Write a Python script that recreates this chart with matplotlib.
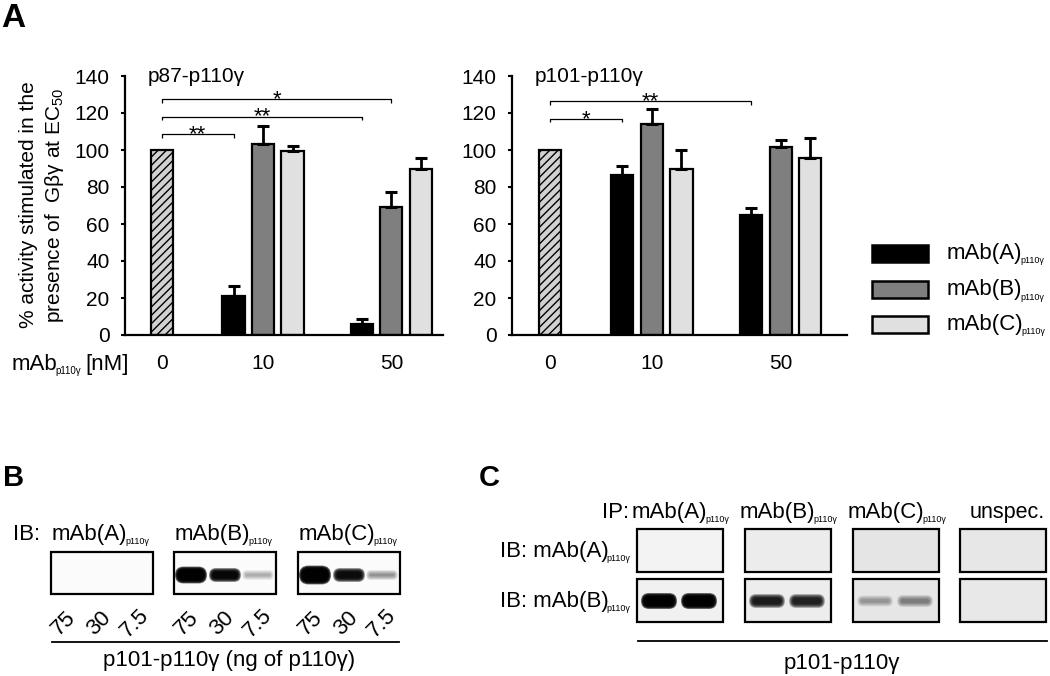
import matplotlib
matplotlib.use("Agg")
import matplotlib.pyplot as plt
from matplotlib.patches import Rectangle, FancyBboxPatch
import numpy as np

plt.rcParams['font.family'] = ['Liberation Sans', 'DejaVu Sans']
plt.rcParams['mathtext.fontset'] = 'custom'
plt.rcParams['mathtext.rm'] = 'Liberation Sans'
plt.rcParams['mathtext.it'] = 'Liberation Sans:italic'
plt.rcParams['mathtext.bf'] = 'Liberation Sans:bold'
plt.rcParams['hatch.linewidth'] = 1.0

# ---------------- data ----------------
conc_labels = ["0", "10", "50"]
series_names = ["mAb(A)", "mAb(B)", "mAb(C)"]
series_sub = "p110γ"
series_colors = ["#000000", "#7f7f7f", "#e0e0e0"]
control_color = "#d2d2d2"

p87_control = 100
p87_A = [21, 6];      p87_A_err = [5.7, 2.5]
p87_B = [103, 69];    p87_B_err = [10, 8.3]
p87_C = [99.5, 90];   p87_C_err = [2.5, 5.5]

p101_control = 100
p101_A = [86.7, 65];    p101_A_err = [4.7, 3.9]
p101_B = [114.3, 101.4]; p101_B_err = [8.1, 4.0]
p101_C = [89.7, 95.7];  p101_C_err = [10.5, 10.9]

# significance: (target series index, target concentration index, bracket height, label)
p87_sig = [(0, 0, 108.5, "**"), (0, 1, 118, "**"), (1, 1, 127.4, "*")]
p101_sig = [(0, 0, 116.8, "*"), (0, 1, 126.3, "**")]

# western blot data (band intensities 0..1, band heights in px)
blotB_titles = ["mAb(A)", "mAb(B)", "mAb(C)"]
blotB_lanes = ["75", "30", "7.5"]
blotB_int = [[0.0, 0.0, 0.0], [1.0, 0.97, 0.3], [1.0, 0.95, 0.4]]
blotB_h = [[0, 0, 0], [9, 6, 2], [11, 6, 2]]

blotC_ip = ["mAb(A)", "mAb(B)", "mAb(C)", "unspec."]
blotC_ib = ["mAb(A)", "mAb(B)"]
blotC_int = [[[0, 0], [0, 0], [0, 0], [0, 0]],
             [[1.0, 1.0], [0.88, 0.85], [0.35, 0.45], [0, 0]]]
blotC_h = [[[0, 0], [0, 0], [0, 0], [0, 0]],
           [[8, 8], [6, 6], [3, 4], [0, 0]]]
blotC_bg = [["#f3f3f3", "#ececec", "#e5e5e5", "#e7e7e7"],
            ["#f1f1f1", "#ededed", "#e6e6e6", "#e8e8e8"]]

# ---------------- figure ----------------
W, H = 1050, 676
fig = plt.figure(figsize=(W / 100, H / 100), dpi=100)
ov = fig.add_axes([0, 0, 1, 1], zorder=0)
ov.set_xlim(0, W); ov.set_ylim(H, 0); ov.axis('off')

def pax(x0, y0, x1, y1):
    return [x0 / W, 1 - y1 / H, (x1 - x0) / W, (y1 - y0) / H]

FS = 15
FS2 = 16
SUBFS = 6.5

def subtext(ax, x, y, main, sub, size=FS2, subsize=SUBFS, after=None, **kw):
    t = ax.text(x, y, main, fontsize=size, va='baseline', ha='left', **kw)
    s = ax.annotate(sub, xy=(1, 0), xycoords=t, xytext=(-1.6, 0.5),
                    textcoords='offset points', fontsize=subsize, va='baseline', ha='left')
    if after:
        ax.annotate(after, xy=(1, 0), xycoords=(s, t), xytext=(3, 0),
                    textcoords='offset points', fontsize=size, va='bottom', ha='left')
    return t

group_centers = [3.43, 7.78]
offsets = [-1, 0, 1]
bw = 0.75

def bar_panel(rect, xlim, control, vals, errs, sig, title, title_x):
    ax = fig.add_axes(rect, zorder=2)
    ax.patch.set_alpha(0)
    ax.bar([0], [control], bw, color=control_color, hatch='////',
           edgecolor='black', linewidth=1.6, zorder=2)
    for i in range(3):
        xs = [gc + offsets[i] for gc in group_centers]
        ax.bar(xs, vals[i], bw, color=series_colors[i], edgecolor='black',
               linewidth=1.6, zorder=2)
        ax.errorbar(xs, vals[i], yerr=[[0, 0], errs[i]], fmt='none', ecolor='black',
                    elinewidth=2, capsize=4, capthick=2.2, zorder=3)
    for si, ci, yb, lab in sig:
        xe = group_centers[ci] + offsets[si]
        ax.plot([0, 0, xe, xe], [yb - 1.8, yb, yb, yb - 1.8], color='black', lw=0.9,
                solid_capstyle='butt', clip_on=False)
        ax.text((0 + xe) / 2, yb - 3.2, lab, ha='center', va='baseline', fontsize=16)
    ax.set_xlim(*xlim)
    ax.set_ylim(0, 140)
    ax.set_yticks(np.arange(0, 141, 20))
    ax.set_xticks([0] + group_centers)
    ax.set_xticklabels(conc_labels)
    ax.tick_params(axis='x', length=0, pad=14, labelsize=FS)
    ax.tick_params(axis='y', length=3, width=1.5, pad=8, labelsize=FS, direction='out')
    for s in ['top', 'right']:
        ax.spines[s].set_visible(False)
    for s in ['left', 'bottom']:
        ax.spines[s].set_linewidth(1.6)
    ax.text(title_x, 1.0, title, transform=ax.transAxes, fontsize=FS, va='center', ha='left')
    return ax

axL = bar_panel(pax(125, 76, 443, 335), (-1.25, 9.53), p87_control,
                [p87_A, p87_B, p87_C], [p87_A_err, p87_B_err, p87_C_err],
                p87_sig, "p87-p110γ", 0.072)
axR = bar_panel(pax(512, 76, 847, 335), (-1.29, 10.02), p101_control,
                [p101_A, p101_B, p101_C], [p101_A_err, p101_B_err, p101_C_err],
                p101_sig, "p101-p110γ", 0.068)

# y label (two lines)
fig.text(28 / W, 1 - 205 / H, "% activity stimulated in the", rotation=90,
         ha='center', va='center', fontsize=FS)
fig.text(54 / W, 1 - 205 / H, "presence of  Gβγ at EC$_{50}$", rotation=90,
         ha='center', va='center', fontsize=FS)

# x label
subtext(ov, 12, 370, "mAb", series_sub, size=FS2, subsize=7, after="[nM]")

# legend
leg_y = [253, 289.5, 324]
for i, (nm, col) in enumerate(zip(series_names, series_colors)):
    yc = leg_y[i]
    ov.add_patch(Rectangle((872, yc - 8.5), 56, 17, facecolor=col, edgecolor='black', lw=1.8))
    subtext(ov, 947, yc + 6, nm, series_sub)

# panel letters
ov.text(1, 27, "A", fontsize=24, fontweight='bold', va='baseline')
ov.text(3, 486, "B", fontsize=21, fontweight='bold', va='baseline')
ov.text(479, 486, "C", fontsize=21, fontweight='bold', va='baseline')

def band(ax, cx, cy, w, h, inten, n=8, spread=4.0):
    if inten <= 0:
        return
    a = 1 - (1 - min(inten, 0.995)) ** (1.0 / n)
    for k in range(n):
        p = spread * (1 - k / (n - 1))
        ww, hh = w - 6 + 2 * p, h + 2 * p
        ax.add_patch(FancyBboxPatch((cx - ww / 2, cy - hh / 2), ww, hh,
                                    boxstyle="round,pad=0,rounding_size=%f" % (hh / 2),
                                    facecolor='black', edgecolor='none', alpha=a, zorder=2))

# ---------------- panel B ----------------
ov.text(13, 540, "IB:", fontsize=FS2, va='baseline')
boxB_x = [51, 174, 298]
boxB_w = 102
lane_rel = [17, 51, 84]
lab_rel = [13, 48, 84]
for j in range(3):
    x0 = boxB_x[j]
    ov.add_patch(Rectangle((x0, 552), boxB_w, 42, facecolor='#fbfbfb', edgecolor='none', zorder=1))
    ov.add_patch(Rectangle((x0, 552), boxB_w, 42, fill=False, edgecolor='black', lw=1.6, zorder=3))
    subtext(ov, x0 + 1, 540, blotB_titles[j], series_sub)
    for k in range(3):
        band(ov, x0 + lane_rel[k], 575, 30, blotB_h[j][k], blotB_int[j][k])
        ov.text(x0 + lab_rel[k], 623, blotB_lanes[k], rotation=45, ha='center', va='center', fontsize=FS2)
ov.plot([52, 399], [641.5, 641.5], color='black', lw=1.3)
ov.text(229, 666, "p101-p110γ (ng of p110γ)", ha='center', va='baseline', fontsize=FS2)

# ---------------- panel C ----------------
boxC_x = [637, 745, 853, 960]
boxC_w = 86
rowC_y = [529, 579]
rowC_h = 43
ov.text(602, 518, "IP:", fontsize=FS2, va='baseline')
ip_x = [632, 740, 848, 970]
for j in range(4):
    if j < 3:
        subtext(ov, ip_x[j], 518, blotC_ip[j], series_sub)
    else:
        ov.text(ip_x[j], 518, blotC_ip[j], fontsize=FS2 - 0.5, va='baseline')
for r in range(2):
    subtext(ov, 500, rowC_y[r] + 28, "IB: " + blotC_ib[r], series_sub)
    for j in range(4):
        x0 = boxC_x[j]
        ov.add_patch(Rectangle((x0, rowC_y[r]), boxC_w, rowC_h, facecolor=blotC_bg[r][j],
                               edgecolor='none', zorder=1))
        ov.add_patch(Rectangle((x0, rowC_y[r]), boxC_w, rowC_h, fill=False,
                               edgecolor='black', lw=1.6, zorder=3))
        for k in range(2):
            band(ov, x0 + [22, 62][k], rowC_y[r] + 22, 34, blotC_h[r][j][k], blotC_int[r][j][k])
ov.plot([638, 1047], [641, 641], color='black', lw=1.3)
ov.text(842, 669, "p101-p110γ", ha='center', va='baseline', fontsize=FS2)

fig.savefig("out.png", dpi=100)
